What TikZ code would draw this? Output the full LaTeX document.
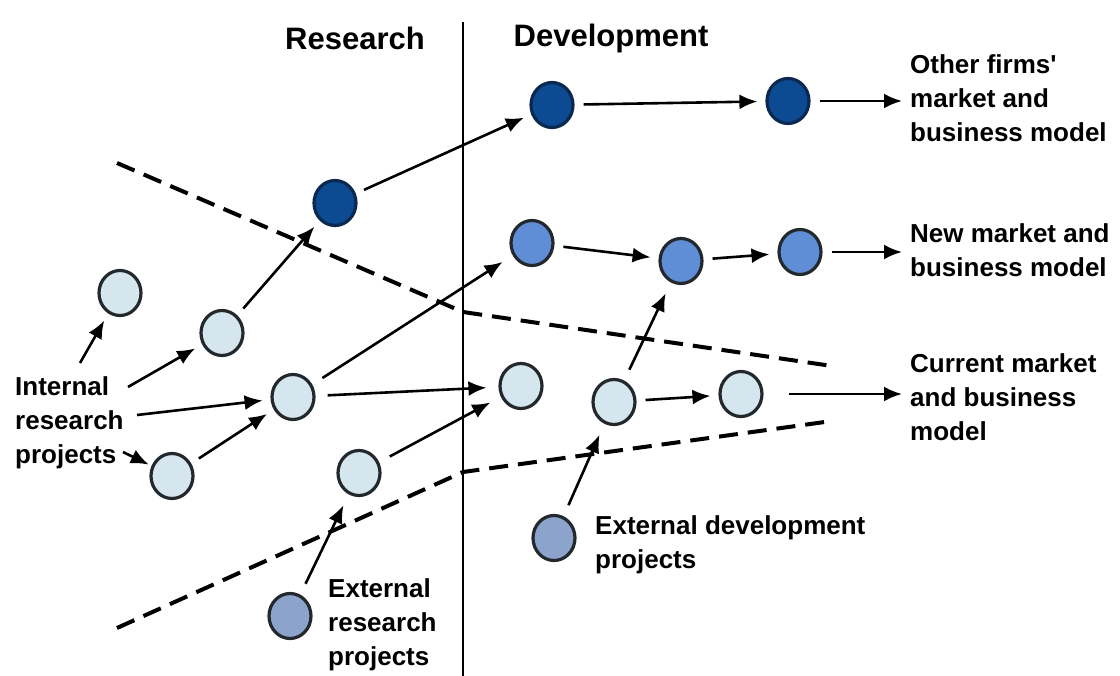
\documentclass[tikz,border=0pt]{standalone}
\usepackage{fontspec}
\setmainfont{Liberation Sans}
\usetikzlibrary{arrows.meta,shapes.geometric}
\definecolor{darkfill}{RGB}{12,74,145}
\definecolor{darkrim}{RGB}{10,40,80}
\definecolor{medfill}{RGB}{96,142,214}
\definecolor{lightfill}{RGB}{214,230,238}
\definecolor{extfill}{RGB}{140,163,204}
\definecolor{rim}{RGB}{35,40,45}
\tikzset{
  proj/.style={ellipse, draw=rim, line width=3.2pt, minimum width=42pt, minimum height=45pt, inner sep=0pt},
  darkproj/.style={proj, fill=darkfill, draw=darkrim},
  medproj/.style={proj, fill=medfill},
  lightproj/.style={proj, fill=lightfill},
  extproj/.style={proj, fill=extfill},
  arr/.style={-{Latex[length=18pt,width=15pt]}, line width=2.6pt, shorten <=9pt, shorten >=8pt},
  longgap/.style={shorten <=12pt, shorten >=12pt},
  border/.style={line width=4pt, dash pattern=on 19pt off 10pt},
  lbl/.style={font=\bfseries\fontsize{26}{34}\selectfont, align=left, anchor=west, inner sep=0pt},
  head/.style={font=\bfseries\fontsize{31}{36}\selectfont, inner sep=0pt}
}
\begin{document}
\begin{tikzpicture}[x=1pt,y=-1pt]
\useasboundingbox (0,0) rectangle (1120,676);

% phase headings and the research / development divide
\node[head] (research) at (355,38) {Research};
\node[head] (development) at (611,38) {Development};
\coordinate (divtop) at (463,22);
\coordinate (divbot) at (463,676);
\draw[line width=2.2pt] (divtop) -- (divbot);

% boundaries of the firm
\coordinate (ua) at (117,163);
\coordinate (ub) at (463,312);
\coordinate (uc) at (832,366);
\coordinate (la) at (117,628);
\coordinate (lb) at (463,472);
\coordinate (lc) at (832,421);
\draw[border] (ua) -- (ub) -- (uc);
\draw[border] (la) -- (lb) -- (lc);

% projects
\node[darkproj] (D1) at (335,203) {};
\node[darkproj] (D2) at (552,105) {};
\node[darkproj] (D3) at (788,101) {};
\node[medproj] (M1) at (532,243) {};
\node[medproj] (M2) at (681,261) {};
\node[medproj] (M3) at (800,252) {};
\node[lightproj] (La) at (120,293) {};
\node[lightproj] (Lb) at (222,333) {};
\node[lightproj] (Lc) at (293,397) {};
\node[lightproj] (Ld) at (172,476) {};
\node[lightproj] (Le) at (359,473) {};
\node[lightproj] (Lf) at (521,386) {};
\node[lightproj] (Lg) at (614,402) {};
\node[lightproj] (Lh) at (741,394) {};
\node[extproj] (ER) at (290,616) {};
\node[extproj] (ED) at (554,538) {};

% labels
\node[lbl] (internal) at (15,423) {Internal\\research\\projects};
\node[lbl] (extres) at (328,625) {External\\research\\projects};
\node[lbl] (extdev) at (595,545) {External development\\projects};
\node[lbl] (other) at (910,98) {Other firms\textquotesingle\\market and\\business model};
\node[lbl] (newmkt) at (910,250) {New market and\\business model};
\node[lbl] (curmkt) at (910,397) {Current market\\and business\\model};

% starts of the arrows leaving the internal label
\coordinate (i1) at (80,363);
\coordinate (i2) at (128,387);
\coordinate (i3) at (137,415);
\coordinate (i4) at (123,452);
\draw[arr, shorten <=0pt] (i1) -- (La);
\draw[arr, shorten <=0pt] (i2) -- (Lb);
\draw[arr, shorten <=0pt] (i3) -- (Lc);
\draw[arr, shorten <=0pt, shorten >=3pt] (i4) -- (Ld);

% flows
\draw[arr] (Lb) -- (D1);
\draw[arr] (D1) -- (D2);
\draw[arr] (D2) -- (D3);
\draw[arr, shorten >=8pt] (D3) -- (D3 -| other.west);
\draw[arr, longgap] (Lc) -- (M1);
\draw[arr, longgap] (Lc) -- (Lf);
\draw[arr] (Ld) -- (Lc);
\draw[arr, longgap] (Le) -- (Lf);
\draw[arr, longgap] (ER) -- (Le);
\draw[arr] (M1) -- (M2);
\draw[arr] (M2) -- (M3);
\draw[arr, shorten >=8pt] (M3) -- (M3 -| newmkt.west);
\draw[arr, longgap] (Lg) -- (M2);
\draw[arr] (Lg) -- (Lh);
\draw[arr, shorten <=25pt, shorten >=8pt] (Lh) -- (Lh -| curmkt.west);
\draw[arr, longgap] (ED) -- (Lg);
\end{tikzpicture}
\end{document}
